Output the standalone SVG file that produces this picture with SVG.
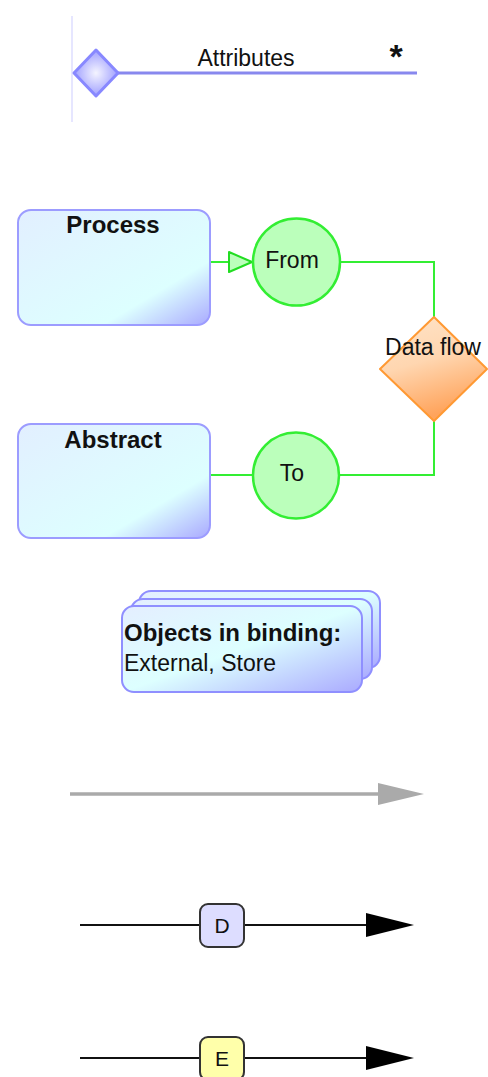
<svg xmlns="http://www.w3.org/2000/svg" width="488" height="1077" viewBox="0 0 488 1077">
  <defs>
    <linearGradient id="boxFill" x1="0" y1="0" x2="1" y2="1">
      <stop offset="0" stop-color="#e2efff"/>
      <stop offset="0.72" stop-color="#ddffff"/>
      <stop offset="1" stop-color="#a9a9ff"/>
    </linearGradient>
    <linearGradient id="stackFill" x1="0" y1="0" x2="1" y2="1">
      <stop offset="0" stop-color="#e4eeff"/>
      <stop offset="0.5" stop-color="#ddffff"/>
      <stop offset="1" stop-color="#aaaaff"/>
    </linearGradient>
    <linearGradient id="flowFill" x1="0" y1="0" x2="0.3" y2="1">
      <stop offset="0" stop-color="#ffe4c8"/>
      <stop offset="0.5" stop-color="#ffd6b0"/>
      <stop offset="1" stop-color="#ffa45c"/>
    </linearGradient>
    <radialGradient id="attrFill" cx="0.5" cy="0.5" r="0.6">
      <stop offset="0" stop-color="#f4f4ff"/>
      <stop offset="1" stop-color="#8f8fff"/>
    </radialGradient>
    <marker id="grayHead" markerWidth="46" markerHeight="24" refX="0" refY="12" markerUnits="userSpaceOnUse" orient="auto">
      <path d="M0,1 L46,12 L0,23 Z" fill="#aaaaaa"/>
    </marker>
    <marker id="blackHead" markerWidth="48" markerHeight="26" refX="0" refY="13" markerUnits="userSpaceOnUse" orient="auto">
      <path d="M0,1 L48,13 L0,25 Z" fill="#000000"/>
    </marker>
  </defs>
  <style>
    .txt { font-family: "Liberation Sans", Arial, sans-serif; fill: #111; }
    .reg { font-size: 23px; }
    .bold { font-size: 24px; font-weight: bold; }
    .box { fill: url(#boxFill); stroke: #9c9cff; stroke-width: 2; }
    .stack { fill: url(#stackFill); stroke: #8f8fff; stroke-width: 2; }
    .port { fill: #bbffbb; stroke: #33ee33; stroke-width: 2.5; }
    .flow { fill: none; stroke: #33ee33; stroke-width: 2; }
    .tag { stroke: #333; stroke-width: 2; }
  </style>

  <!-- attribute line with aggregation diamond -->
  <g id="attributes">
    <line x1="72" y1="16" x2="72" y2="122" stroke="#e6e6ff" stroke-width="2"/>
    <line x1="117" y1="73" x2="417" y2="73" stroke="#8888ee" stroke-width="3"/>
    <path d="M96,50 L118,73 L96,96 L74,73 Z" fill="url(#attrFill)" stroke="#8888ff" stroke-width="3" stroke-linejoin="round"/>
    <text class="txt reg" x="246" y="66" text-anchor="middle">Attributes</text>
    <text class="txt" x="396" y="68" text-anchor="middle" font-size="34" font-weight="bold">*</text>
  </g>

  <!-- connectors between process/abstract and data flow -->
  <g id="connectors">
    <line class="flow" x1="210" y1="262" x2="229" y2="262"/>
    <path class="flow" d="M340,262 H434 V318"/>
    <path class="flow" d="M434,421 V475 H339"/>
    <line class="flow" x1="210" y1="475" x2="253" y2="475"/>
    <path d="M229,252 L252,262 L229,272 Z" fill="#bbffbb" stroke="#22dd22" stroke-width="2" stroke-linejoin="round"/>
  </g>

  <g id="process">
    <rect class="box" x="18" y="210" width="192" height="115" rx="13"/>
    <text class="txt bold" x="113" y="233" text-anchor="middle">Process</text>
  </g>

  <g id="abstract">
    <rect class="box" x="18" y="424" width="192" height="114" rx="13"/>
    <text class="txt bold" x="113" y="448" text-anchor="middle">Abstract</text>
  </g>

  <g id="from">
    <circle class="port" cx="296.5" cy="262" r="43.5"/>
    <text class="txt reg" x="292" y="268" text-anchor="middle">From</text>
  </g>

  <g id="to">
    <circle class="port" cx="296" cy="475.5" r="43"/>
    <text class="txt reg" x="292" y="481" text-anchor="middle">To</text>
  </g>

  <g id="data-flow">
    <path d="M434,317 L487,369 L434,421 L380,369 Z" fill="url(#flowFill)" stroke="#ff9933" stroke-width="2" stroke-linejoin="round"/>
    <text class="txt reg" x="433" y="355" text-anchor="middle">Data flow</text>
  </g>

  <!-- stacked objects in binding -->
  <g id="binding">
    <rect class="stack" x="139" y="591" width="241" height="77" rx="12"/>
    <rect class="stack" x="131" y="599" width="241" height="80" rx="12"/>
    <rect class="stack" x="122" y="606" width="240" height="86" rx="12"/>
    <text class="txt bold" x="124" y="641">Objects in binding:</text>
    <text class="txt reg" x="124" y="671">External, Store</text>
  </g>

  <!-- plain gray arrow -->
  <g id="gray-arrow">
    <line x1="70" y1="794" x2="378" y2="794" stroke="#aaaaaa" stroke-width="3.5" marker-end="url(#grayHead)"/>
  </g>

  <g id="d-arrow">
    <line x1="80" y1="925" x2="366" y2="925" stroke="#111" stroke-width="2" marker-end="url(#blackHead)"/>
    <rect class="tag" x="200" y="904" width="44" height="43" rx="8" fill="#ddddff"/>
    <text class="txt" x="222" y="933" text-anchor="middle" font-size="21">D</text>
  </g>

  <g id="e-arrow">
    <line x1="80" y1="1058" x2="366" y2="1058" stroke="#111" stroke-width="2" marker-end="url(#blackHead)"/>
    <rect class="tag" x="200" y="1037" width="44" height="43" rx="8" fill="#ffffaa"/>
    <text class="txt" x="222" y="1066" text-anchor="middle" font-size="21">E</text>
  </g>
</svg>
